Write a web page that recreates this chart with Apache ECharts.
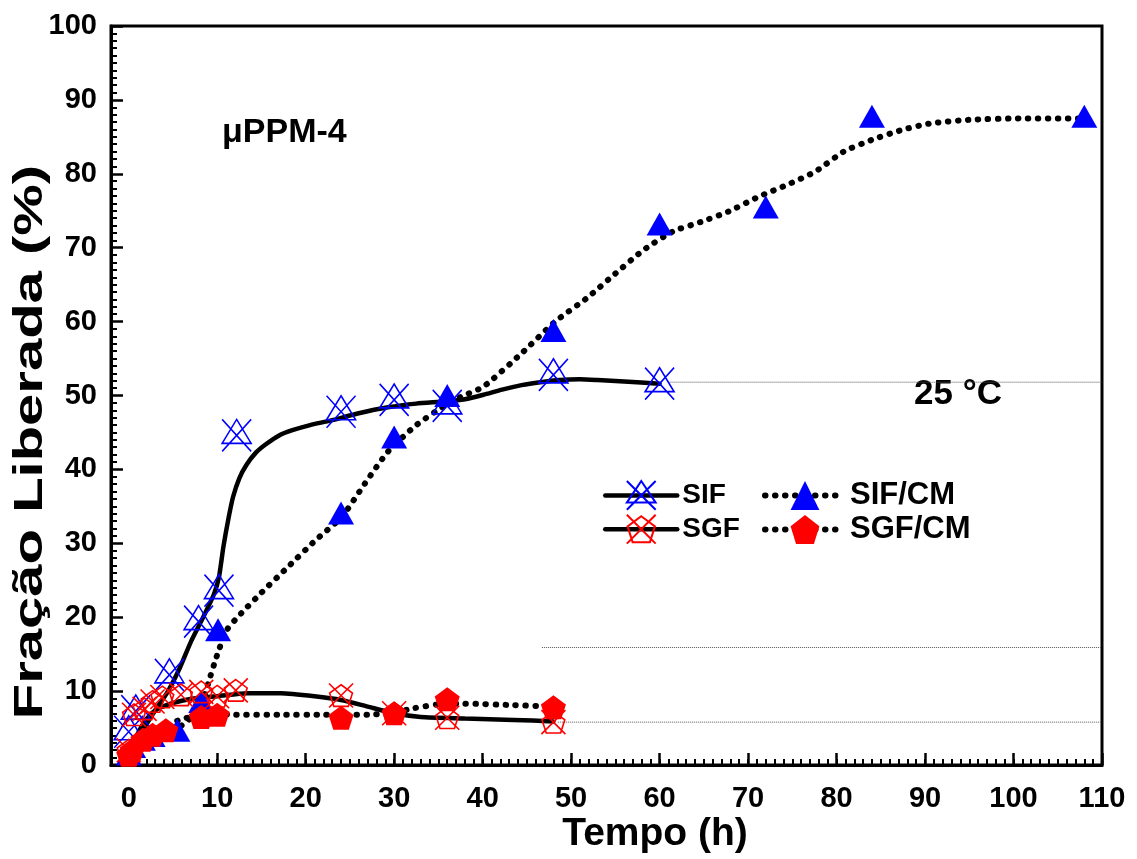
<!DOCTYPE html>
<html><head><meta charset="utf-8">
<script src="https://cdn.jsdelivr.net/npm/echarts@6/dist/echarts.min.js"></script>
<style>html,body{margin:0;padding:0;background:#fff}#c{width:1137px;height:859px}</style>
</head><body><div id="c"></div>
<script>
// ---- data ----
const xMajorTicks = [0,10,20,30,40,50,60,70,80,90,100,110];

// measured points [time (h), released fraction (%)]
const SIF = [[0,4.5],[0.8,7.3],[4.6,12.2],[7.9,19.4],[10.2,23.6],[12.2,44.6],[24,47.8],[30,49.4],[36,48.6],[48,52.8],[60,51.6]];
const SGF = [[0,2.0],[0.6,6.8],[1.8,7.6],[2.7,8.6],[3.8,9.2],[5.9,9.5],[8.2,9.9],[10,9.3],[12.1,10.1],[24,9.4],[30,7.0],[36,6.4],[48,5.8]];
const SIF_CM = [[0,1.5],[0.5,2.5],[1.6,3.5],[2.7,4.0],[5.5,4.7],[8.2,8.6],[10.1,18.3],[24,34.1],[30,44.4],[36,50.0],[48,58.8],[60,73.2],[72,75.5],[84,87.8],[108,87.8]];
const SGF_CM = [[0,1.4],[0.4,2.0],[1.6,3.4],[2.7,4.1],[4.2,4.7],[8.2,6.5],[10,6.8],[24,6.4],[30,7.0],[36,8.9],[48,7.8]];

// fitted curves as drawn in the picture
const SIF_FIT = [[0,1.5],[1,3.5],[2,5.5],[3,7.4],[4.4,9.9],[5.8,13.2],[7,16.6],[8.5,20.2],[9.6,23.0],[10.2,25.4],[10.7,29.5],[11.3,33.5],[11.8,36.3],[12.5,38.8],[13.3,40.6],[14.4,42.3],[15.5,43.4],[17,44.6],[18.5,45.3],[20.5,46.0],[22.8,46.6],[26,47.6],[29.3,48.4],[32.5,48.9],[35.8,49.2],[38,49.5],[40.1,50.1],[42.2,50.8],[44.4,51.4],[46.5,51.8],[48.7,52.1],[51,52.2],[53,52.1],[56,51.9],[60,51.6]];
const SGF_FIT = [[0,1.5],[1,4.2],[2,6.2],[3,7.4],[4.5,8.2],[6,8.7],[8,9.1],[10,9.3],[13.4,9.7],[17.2,9.7],[21,9.3],[24,8.8],[27,7.9],[30,7.0],[33,6.5],[38,6.3],[43.5,6.1],[48,5.9]];
const SIF_CM_FIT = [[0,1.5],[2,3.2],[4,4.4],[5.5,5.0],[6.5,5.8],[7.8,7.4],[8.5,9.2],[9.1,11.5],[9.7,13.8],[10.2,15.6],[11.1,18.3],[12.7,20.5],[14.9,23.2],[18,26.8],[21.1,30.4],[24.1,33.6],[26.7,38.1],[29.3,42.4],[32.3,45.8],[34.9,48.0],[37.5,49.8],[40.1,51.2],[44.4,55.7],[48.2,60.0],[51.8,63.2],[55,66.5],[58.2,69.7],[61.5,72.2],[64.7,73.5],[67.8,74.9],[71.2,76.9],[74.4,78.5],[77.6,80.3],[80.8,83.0],[84,84.6],[87.3,85.9],[90.5,86.8],[94.9,87.3],[101,87.5],[108,87.5]];
const SGF_CM_FIT = [[0,1.3],[2,3.5],[4,5.2],[6,6.2],[8,6.7],[10,6.9],[12,6.8],[17,6.8],[22,6.8],[27,6.8],[30,7.1],[32.3,7.7],[35,8.2],[38,8.3],[43.5,8.1],[48,7.9]];

// thin dotted guide lines seen in the picture
const GUIDE_A = [[61,51.8],[110,51.8]];
const GUIDE_B = [[46.7,15.9],[110,15.9]];
const GUIDE_C = [[48.5,5.8],[110,5.8]];

// ---- styles ----
const FONT = 'Liberation Sans, Arial, Helvetica, sans-serif';
const BLUE = '#0000ff', RED = '#ff0000';
const SYM_TRI_X = 'path://M15,0 L30,24 L0,24 Z M0,0 L30,32 M30,0 L0,32';
const SYM_PENT_X = 'path://M10,1 L19.5,8 L16,19 L4,19 L0.5,8 Z M0,0 L20,20 M20,0 L0,20';
const SYM_PENT = 'path://M10,0 L20,7.3 L16.2,19 L3.8,19 L0,7.3 Z';
const DOT = { type: [0.5, 9.5], cap: 'round', width: 6, color: '#000' };
const SOLID = { type: 'solid', width: 4.5, color: '#000', cap: 'round' };

function guide(d){
  return { type:'line', data:d, symbol:'none', silent:true, z:1,
    lineStyle:{ color:'#555', width:1, type:[1,1] } };
}
function fit(name, d, line, sym, symSize, item){
  return { type:'line', name, data:d, smooth:0.2, showSymbol:false, symbol:sym, symbolSize:symSize,
    silent:true, z:2, lineStyle:line, itemStyle:item };
}
function pts(name, d, sym, size, item, z){
  return { type:'scatter', name, data:d, symbol:sym, symbolSize:size, z:z, itemStyle:item };
}
const openBlue = { color:'rgba(0,0,0,0)', borderColor:BLUE, borderWidth:1.6, opacity:1 };
const openRed = { color:'rgba(0,0,0,0)', borderColor:RED, borderWidth:1.6, opacity:1 };
const fillBlue = { color:BLUE, borderWidth:0, opacity:1 };
const fillRed = { color:RED, borderWidth:0, opacity:1 };

const chart = echarts.init(document.getElementById('c'));
chart.setOption({
  animation:false,
  backgroundColor:'#fff',
  grid:{ left:111, right:35, top:26, bottom:94, show:true, borderColor:'#000', borderWidth:3,
    backgroundColor:'transparent', outerBoundsMode:'none', containLabel:false },
  xAxis:[
    { type:'value', min:-2, max:110, interval:1,
      axisLine:{ show:true, onZero:false, lineStyle:{ color:'#000', width:3 } },
      axisTick:{ show:true, inside:true, length:6, lineStyle:{ color:'#000', width:2 } },
      axisLabel:{ show:false }, splitLine:{ show:false } },
    { type:'value', min:-2, max:110, position:'bottom',
      axisLine:{ show:false, onZero:false },
      axisTick:{ show:true, inside:true, length:12, customValues:xMajorTicks, lineStyle:{ color:'#000', width:2.5 } },
      axisLabel:{ show:true, customValues:xMajorTicks, margin:19, color:'#000', fontFamily:FONT, fontWeight:'bold', fontSize:29 },
      splitLine:{ show:false } }
  ],
  yAxis:{ type:'value', min:0, max:100, interval:10,
    axisLine:{ show:true, onZero:false, lineStyle:{ color:'#000', width:3 } },
    axisTick:{ show:true, inside:true, length:12, lineStyle:{ color:'#000', width:2.5 } },
    minorTick:{ show:true, splitNumber:10, length:6, lineStyle:{ color:'#000', width:2 } },
    axisLabel:{ margin:14, color:'#000', fontFamily:FONT, fontWeight:'bold', fontSize:29 },
    splitLine:{ show:false }, minorSplitLine:{ show:false } },
  legend:[
    { data:['SIF','SGF'], orient:'vertical', left:598, top:475, itemWidth:72, itemHeight:36, itemGap:3,
      lineStyle:{ width:4.5, type:'solid', color:'#000' },
      textStyle:{ color:'#000', fontFamily:FONT, fontWeight:'bold', fontSize:28 }, selectedMode:false },
    { data:['SIF/CM','SGF/CM'], orient:'vertical', left:757, top:475, itemWidth:80, itemHeight:36, itemGap:3,
      lineStyle:{ width:6, type:[0.5,9.5], cap:'round', color:'#000' },
      textStyle:{ color:'#000', fontFamily:FONT, fontWeight:'bold', fontSize:31 }, selectedMode:false }
  ],
  graphic:[
    { type:'text', left:222, top:116, style:{ text:'μPPM-4', fill:'#000', font:'bold 34px ' + FONT } },
    { type:'text', left:914, top:377, style:{ text:'25 °C', fill:'#000', font:'bold 35px ' + FONT } },
    { type:'text', x:31, y:442, rotation:Math.PI/2, scaleX:1.45, scaleY:1,
      style:{ text:'Fração Liberada (%)', fill:'#000', font:'bold 40px ' + FONT, align:'center', verticalAlign:'middle' } },
    { type:'text', x:655, y:834,
      style:{ text:'Tempo (h)', fill:'#000', font:'bold 39px ' + FONT, align:'center', verticalAlign:'middle' } }
  ],
  series:[
    guide(GUIDE_A), guide(GUIDE_B), guide(GUIDE_C),
    fit('SIF', SIF_FIT, SOLID, SYM_TRI_X, [30,32], openBlue),
    fit('SGF', SGF_FIT, SOLID, SYM_PENT_X, [24,24], openRed),
    fit('SIF/CM', SIF_CM_FIT, DOT, 'triangle', [26,23], fillBlue),
    fit('SGF/CM', SGF_CM_FIT, DOT, SYM_PENT, [25,24], fillRed),
    pts('SIF data', SIF, SYM_TRI_X, [29,32], openBlue, 3),
    pts('SIF/CM data', SIF_CM, 'triangle', [26,23], fillBlue, 4),
    pts('SGF data', SGF, SYM_PENT_X, [24,24], openRed, 5),
    pts('SGF/CM data', SGF_CM, SYM_PENT, [25,24], fillRed, 6)
  ]
});
</script></body></html>
